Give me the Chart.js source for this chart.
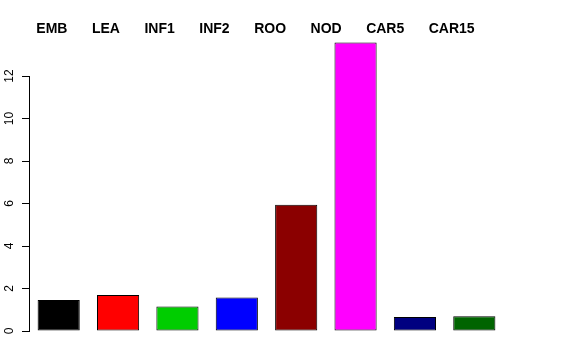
<!DOCTYPE html>
<html>
<head>
<meta charset="utf-8">
<script src="https://cdn.jsdelivr.net/npm/chart.js@4"></script>
<style>
  html, body { margin: 0; padding: 0; background: #fff; }
  #wrap { width: 576px; height: 360px; }
</style>
</head>
<body>
<div id="wrap"><canvas id="barras" width="576" height="360"></canvas></div>
<script>
const categorias = ['EMB', 'LEA', 'INF1', 'INF2', 'ROO', 'NOD', 'CAR5', 'CAR15'];
const valores = [1.46, 1.69, 1.15, 1.58, 5.94, 13.58, 0.66, 0.69];
const colores = ['#000000', '#ff0000', '#00cd00', '#0000ff', '#8b0000', '#ff00ff', '#000080', '#006400'];
const ticksY = [0, 2, 4, 6, 8, 10, 12];

Chart.defaults.font.family = '"Liberation Sans", Arial, Helvetica, sans-serif';
Chart.defaults.color = '#000';

const ctx = document.getElementById('barras').getContext('2d');
new Chart(ctx, {
    type: 'bar',
    data: {
        labels: categorias,
        datasets: [{
            data: valores,
            backgroundColor: colores,
            borderColor: '#000',
            borderWidth: 1,
            borderSkipped: false,
            categoryPercentage: 1,
            barPercentage: 0.71,
            clip: false
        }]
    },
    options: {
        responsive: false,
        animation: false,
        events: [],
        layout: { padding: { left: 0, right: 72, top: 4.5, bottom: 29 } },
        plugins: {
            tooltip: { enabled: false },
            legend: {
                display: true,
                position: 'top',
                align: 'center',
                onClick: null,
                labels: {
                    boxWidth: 0,
                    boxHeight: 0,
                    padding: 17.5,
                    color: '#000',
                    font: { size: 14, weight: 'bold' },
                    generateLabels: () => categorias.map((c, i) => ({
                        text: c,
                        fillStyle: 'rgba(0,0,0,0)',
                        strokeStyle: 'rgba(0,0,0,0)',
                        lineWidth: 0,
                        fontColor: '#000',
                        hidden: false,
                        index: i
                    }))
                }
            }
        },
        scales: {
            x: { display: false },
            xTop: {
                type: 'category',
                labels: categorias,
                position: 'top',
                display: true,
                grid: { display: false },
                border: { display: false },
                ticks: { display: false },
                afterFit: (s) => { s.height = 30; }
            },
            y: {
                min: 0,
                max: 12,
                afterFit: (s) => { s.width = 29; },
                afterBuildTicks: (s) => { s.ticks = ticksY.map(v => ({ value: v })); },
                border: { display: true, color: '#000', width: 1 },
                grid: { drawOnChartArea: false, drawTicks: true, tickLength: 7, color: '#000', lineWidth: 1 },
                ticks: {
                    minRotation: 90,
                    maxRotation: 90,
                    crossAlign: 'center',
                    padding: 6,
                    color: '#000',
                    font: { size: 12 }
                }
            }
        }
    }
});
</script>
</body>
</html>
